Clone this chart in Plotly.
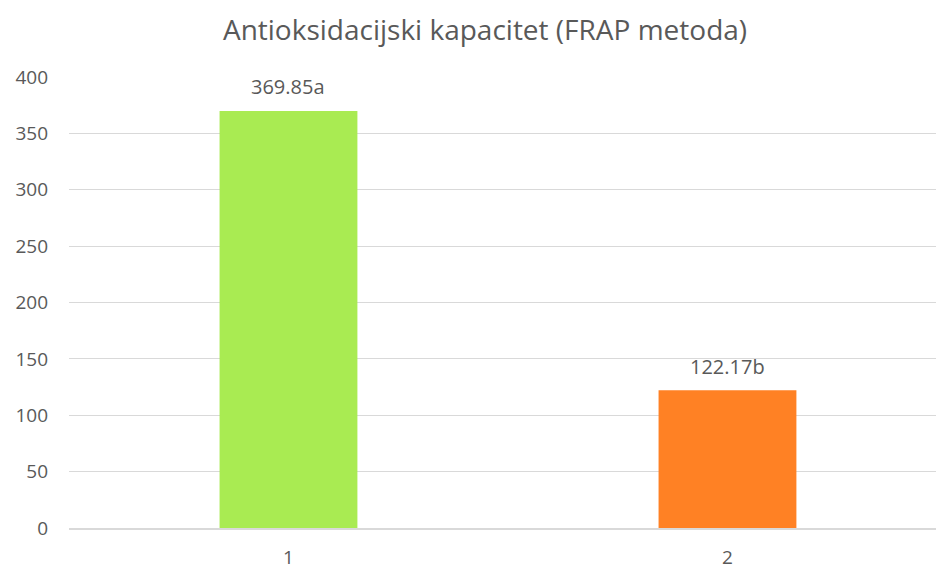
import plotly.graph_objects as go

categories = ["1", "2"]
values = [369.85, 122.17]
labels = ["369.85a", "122.17b"]
colors = ["#A9EB52", "#FF8124"]
title = "Antioksidacijski kapacitet (FRAP metoda)"

FONT = "'Open Sans', sans-serif"
TXT = "#595959"

fig = go.Figure()
fig.add_trace(go.Bar(
    x=categories, y=values, marker=dict(color=colors, line=dict(width=0)),
    width=0.314, hoverinfo="skip",
))
for i, (v, t) in enumerate(zip(values, labels)):
    fig.add_annotation(x=i, y=v, text=t, showarrow=False, yanchor="middle",
                       yshift=24, font=dict(size=20, color=TXT, family=FONT))

fig.update_layout(
    width=936, height=571,
    margin=dict(l=69, r=0, t=77, b=43),
    paper_bgcolor="white", plot_bgcolor="white",
    showlegend=False,
    title=dict(text=title, x=(485 - 69) / 867, xref="paper", xanchor="center",
               y=1 - 30 / 571, yanchor="middle",
               font=dict(size=28, color=TXT, family=FONT)),
    font=dict(family=FONT, color=TXT, size=19),
)
fig.update_xaxes(type="category", range=[-0.5, 1.475], showgrid=False,
                 showline=True, linecolor="#D9D9D9", linewidth=1.5,
                 ticks="", ticklabelstandoff=11,
                 tickfont=dict(size=19, color=TXT, family=FONT))
fig.update_yaxes(range=[0, 400], dtick=50, showgrid=True, gridcolor="#D9D9D9",
                 gridwidth=1.3, zeroline=False, showline=False, ticks="",
                 ticklabelstandoff=20,
                 tickfont=dict(size=19, color=TXT, family=FONT))

fig.write_html("out.html", config={"displayModeBar": False},
               post_script="document.body.style.margin='0';")
